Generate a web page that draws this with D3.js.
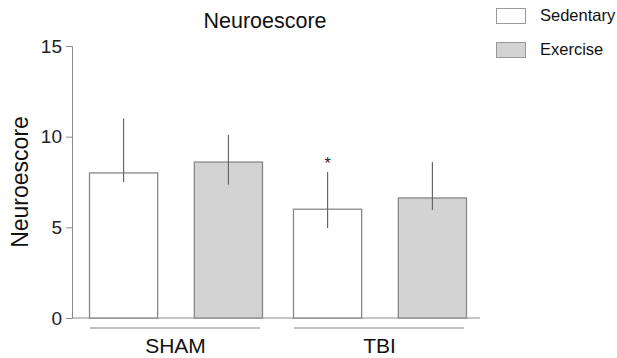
<!DOCTYPE html>
<html><head><meta charset="utf-8">
<script src="https://cdn.jsdelivr.net/npm/d3@7"></script>
<style>body{margin:0;background:#fff}svg{display:block}text{font-family:Arial,"Liberation Sans",sans-serif}</style>
</head><body><svg id="c" width="617" height="358"></svg>
<script>
const groups = ["SHAM", "TBI"];
const series = ["Sedentary", "Exercise"];
const values = [[8.0, 8.6], [6.0, 6.62]];
const errHigh = [[11.0, 10.1], [8.05, 8.6]];
const errLow = [[7.5, 7.35], [4.96, 5.96]];
const stars = [["", ""], ["*", ""]];
const yTicks = [0, 5, 10, 15];
const fills = ["#ffffff", "#d3d3d3"];

const svg = d3.select("#c");
const y = d3.scaleLinear().domain([0, 15]).range([318, 46]);
const gx = d3.scaleOrdinal().domain(groups).range([89, 293]);
const x1 = d3.scaleBand().domain(series).range([0, 173]).paddingInner(0.35);

const axisColor = "#8a8a8a";
const yAxis = svg.append("g").attr("transform", "translate(72,0)")
  .call(d3.axisLeft(y).tickValues(yTicks).tickSize(6).tickPadding(4));
yAxis.select(".domain").attr("stroke", axisColor);
yAxis.selectAll(".tick line").attr("stroke", axisColor);
yAxis.selectAll(".tick text").attr("font-size", 19).attr("fill", "#222")
  .attr("font-family", "Arial, 'Liberation Sans', sans-serif");

svg.append("line").attr("x1", 72).attr("x2", 480).attr("y1", y(0)).attr("y2", y(0))
  .attr("stroke", axisColor);

groups.forEach((g, gi) => {
  const gg = svg.append("g").attr("transform", `translate(${gx(g)},0)`);
  series.forEach((s, si) => {
    const bx = x1(s), bw = x1.bandwidth();
    gg.append("rect").attr("x", bx + 0.5).attr("y", y(values[gi][si]))
      .attr("width", bw).attr("height", y(0) - y(values[gi][si]))
      .attr("fill", fills[si]).attr("stroke", "#888").attr("stroke-width", 1.3);
    gg.append("line").attr("x1", bx + bw / 2 + 0.5).attr("x2", bx + bw / 2 + 0.5)
      .attr("y1", y(errHigh[gi][si])).attr("y2", y(errLow[gi][si]))
      .attr("stroke", "#666").attr("stroke-width", 1.2);
    if (stars[gi][si]) {
      gg.append("text").attr("x", bx + bw / 2 + 0.5).attr("y", y(errHigh[gi][si]) - 3)
        .attr("text-anchor", "middle").attr("font-size", 16).attr("fill", "#222").text(stars[gi][si]);
    }
  });
  gg.append("line").attr("x1", 1).attr("x2", 171).attr("y1", 328).attr("y2", 328)
    .attr("stroke", "#aaa").attr("stroke-width", 1.5);
  gg.append("text").attr("x", 173 / 2).attr("y", 353).attr("text-anchor", "middle")
    .attr("font-size", 21).attr("fill", "#111").text(g);
});

svg.append("text").attr("x", 265).attr("y", 28).attr("text-anchor", "middle")
  .attr("font-size", 21.5).attr("fill", "#111").text("Neuroescore");

svg.append("text").attr("transform", "translate(28,182) rotate(-90)")
  .attr("text-anchor", "middle").attr("font-size", 23).attr("fill", "#111").text("Neuroescore");

const leg = svg.append("g");
series.forEach((s, i) => {
  leg.append("rect").attr("x", 496.5).attr("y", 8.5 + i * 34).attr("width", 29).attr("height", 15)
    .attr("fill", fills[i]).attr("stroke", "#999");
  leg.append("text").attr("x", 540).attr("y", 21 + i * 34).attr("font-size", 16.5)
    .attr("fill", "#111").text(s);
});
</script></body></html>
